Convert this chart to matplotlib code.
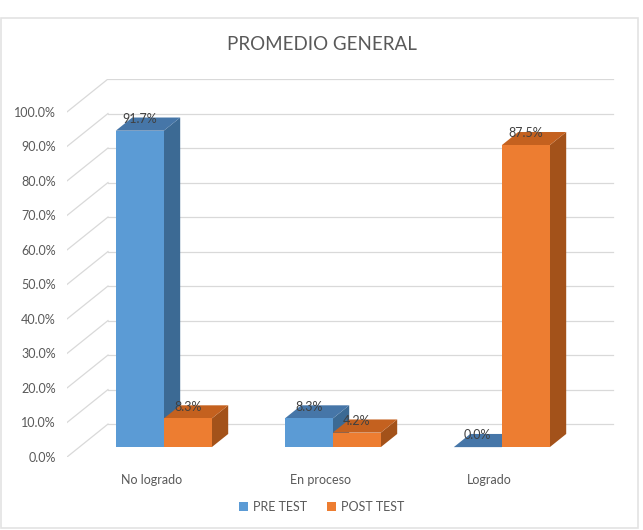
import matplotlib
matplotlib.use("Agg")
import matplotlib.pyplot as plt
from matplotlib.patches import Polygon, Rectangle, Patch

plt.rcParams['font.family'] = ['Lato', 'DejaVu Sans']

# --- data ---
categories = ['No logrado', 'En proceso', 'Logrado']
series_names = ['PRE TEST', 'POST TEST']
pre_test = [91.7, 8.3, 0.0]
post_test = [8.3, 4.2, 87.5]
yticks = [0, 10, 20, 30, 40, 50, 60, 70, 80, 90, 100]

# --- style ---
front_cols = ['#5B9BD5', '#ED7D31']
top_cols = ['#4676A8', '#C4611F']
side_cols = ['#3C6A94', '#A3521A']
grid_col = '#D9D9D9'
text_col = '#595959'

# oblique depth: full depth offset in data units
DX = 41 / 169.0
DY = 9.54
Z0, Z1 = 0.3, 0.7          # bars sit in the middle of the depth
W = 48 / 169.0             # bar width in category units


def proj(x, y, z):
    return x + z * DX, y + z * DY


fig = plt.figure(figsize=(6.43, 5.30), dpi=100)
W_PX, H_PX = 643.0, 530.0
ax = fig.add_axes([67 / W_PX, (H_PX - 457) / H_PX, 548 / W_PX, 378 / H_PX])
ax.set_xlim(0, len(categories) + DX)
ax.set_ylim(0, 100 + DY)
for s in ax.spines.values():
    s.set_visible(False)

# walls / gridlines
for yv in yticks:
    bx0, by0 = proj(0, yv, 1)
    bx1, by1 = proj(len(categories) - 0.01, yv, 1)
    ax.plot([bx0, bx1], [by0, by1], color=grid_col, lw=0.9, zorder=1)
    fx, fy = proj(0, yv, 0)
    ax.plot([fx, bx0], [fy, by0], color=grid_col, lw=0.9, zorder=1)

ax.set_yticks(yticks)
ax.set_yticklabels([f'{v:.1f}%' for v in yticks])
ax.set_xticks([i + 0.5 for i in range(len(categories))])
ax.set_xticklabels(categories)
ax.tick_params(axis='y', length=0, pad=8, labelsize=9, labelcolor=text_col)
ax.tick_params(axis='x', length=0, pad=12, labelsize=9, labelcolor=text_col)

# bars
for i in range(len(categories)):
    for s, vals in enumerate([pre_test, post_test]):
        v = vals[i]
        x0 = i + 0.5 - W + s * W
        x1 = x0 + W
        front = [proj(x0, 0, Z0), proj(x1, 0, Z0), proj(x1, v, Z0), proj(x0, v, Z0)]
        top = [proj(x0, v, Z0), proj(x1, v, Z0), proj(x1, v, Z1), proj(x0, v, Z1)]
        side = [proj(x1, 0, Z0), proj(x1, 0, Z1), proj(x1, v, Z1), proj(x1, v, Z0)]
        z = 3 + i * 3 + s
        ax.add_patch(Polygon(side, closed=True, fc=side_cols[s], ec='none', zorder=z))
        ax.add_patch(Polygon(top, closed=True, fc=top_cols[s], ec='none', zorder=z))
        ax.add_patch(Polygon(front, closed=True, fc=front_cols[s], ec='none', zorder=z))
        lx, ly = proj(x0 + W / 2, v, Z0)
        ax.text(lx, ly + 3.4, f'{v:.1f}%', ha='center', va='center',
                fontsize=9, color='#404040', zorder=20)

# title
fig.text(0.5, 1 - 45 / H_PX, 'PROMEDIO GENERAL', ha='center', va='center',
         fontsize=13.5, color=text_col)

# legend
handles = [Patch(facecolor=front_cols[k], edgecolor='none') for k in range(2)]
fig.legend(handles, series_names, loc='center', bbox_to_anchor=(0.5, 1 - 507 / H_PX),
           ncol=2, frameon=False, fontsize=9, labelcolor=text_col,
           handlelength=0.7, handleheight=0.7, handletextpad=0.4, columnspacing=1.6)

# chart border
fig.add_artist(Rectangle((1 / W_PX, 1 - 528 / H_PX), 637 / W_PX, 510 / H_PX,
                         transform=fig.transFigure, fill=False, ec='#E3E3E3', lw=1.2))

fig.savefig('out.png', dpi=100)
